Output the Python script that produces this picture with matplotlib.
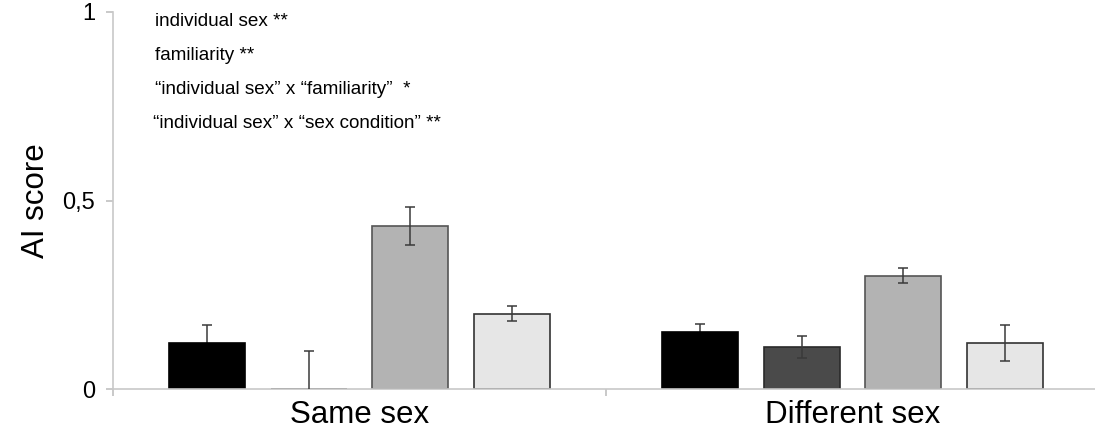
import numpy as np
import matplotlib
matplotlib.use('Agg')
import matplotlib.pyplot as plt

plt.rcParams['font.family'] = ['Liberation Sans', 'DejaVu Sans']

# data
groups = ['Same sex', 'Different sex']
bar_colors = ['#000000', '#4a4a4a', '#b3b3b3', '#e6e6e6']
edge_colors = ['#000000', '#2a2a2a', '#555555', '#333333']
same_vals = [0.122, 0.0, 0.432, 0.200]
same_err = [0.048, 0.10, 0.050, 0.020]
diff_vals = [0.151, 0.111, 0.300, 0.122]
diff_err = [0.021, 0.030, 0.020, 0.048]
notes = ['individual sex **',
         'familiarity **',
         '\u201cindividual sex\u201d x \u201cfamiliarity\u201d  *',
         '\u201cindividual sex\u201d x \u201csex condition\u201d **']

fig = plt.figure(figsize=(10.95, 4.28), dpi=100)
ax = fig.add_axes([113 / 1095, 39 / 428, 986 / 1095, 377 / 428])

vals = np.array([same_vals, diff_vals])
errs = np.array([same_err, diff_err])
width = 0.154
step = 0.206
offsets = (np.arange(4) - 1.5) * step

for j in range(4):
    x = np.arange(2) + offsets[j]
    ax.bar(x, vals[:, j], width=width, color=bar_colors[j],
           edgecolor=edge_colors[j], linewidth=1.2, zorder=2)
    # the black bars hide the lower half of their error bars
    ax.errorbar(x, vals[:, j], yerr=errs[:, j], fmt='none',
                ecolor='#3a3a3a', elinewidth=1.1, capsize=3.6,
                capthick=1.1, zorder=1 if j == 0 else 3)

ax.set_xlim(-0.5, 1.5)
ax.set_ylim(0, 1)
ax.set_yticks([0, 0.5, 1])
ax.set_yticklabels(['0', '0,5', '1'], fontsize=17)
ax.set_xticks([-0.5, 0.5, 1.5])
ax.set_xticklabels([])
ax.set_xticks([0, 1], minor=True)
ax.set_xticklabels(groups, minor=True, fontsize=22.5)
ax.tick_params(axis='x', which='minor', length=0, pad=8)
ax.tick_params(axis='both', which='major', length=5, color='#c0c0c0',
               width=1.2, pad=8)

for s in ['top', 'right']:
    ax.spines[s].set_visible(False)
for s in ['left', 'bottom']:
    ax.spines[s].set_color('#c8c8c8')
    ax.spines[s].set_linewidth(1.2)

ax.set_ylabel('AI score', fontsize=22.5, labelpad=8)

for i, t in enumerate(notes):
    fig.text(155 / 1095 - (0.002 if i == 3 else 0), 1 - (22 + 34 * i) / 428, t,
             fontsize=13.6, va='center', ha='left')

fig.savefig('out.png', dpi=100)
